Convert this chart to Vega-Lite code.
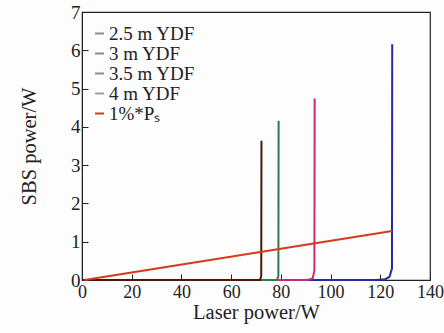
{
  "$schema": "https://vega.github.io/schema/vega-lite/v6.json",
  "width": 348,
  "height": 268,
  "autosize": {"type": "none"},
  "padding": {"left": 82, "top": 12, "right": 14, "bottom": 53},
  "background": "#fdfdfd",
  "config": {
    "font": "Liberation Serif",
    "view": {"stroke": "#222", "strokeWidth": 1.2}
  },
  "datasets": {
    "curves": [
      {"series": "4 m YDF", "x": 0.5, "y": 0},
      {"series": "4 m YDF", "x": 118, "y": 0},
      {"series": "4 m YDF", "x": 122, "y": 0.02},
      {"series": "4 m YDF", "x": 123.7, "y": 0.08},
      {"series": "4 m YDF", "x": 124.7, "y": 0.3},
      {"series": "4 m YDF", "x": 124.8, "y": 6.16},
      {"series": "3.5 m YDF", "x": 0.5, "y": 0},
      {"series": "3.5 m YDF", "x": 90.7, "y": 0},
      {"series": "3.5 m YDF", "x": 92.8, "y": 0.04},
      {"series": "3.5 m YDF", "x": 93.5, "y": 0.25},
      {"series": "3.5 m YDF", "x": 93.6, "y": 4.74},
      {"series": "3 m YDF", "x": 0.5, "y": 0},
      {"series": "3 m YDF", "x": 78.4, "y": 0},
      {"series": "3 m YDF", "x": 79, "y": 0.1},
      {"series": "3 m YDF", "x": 79.1, "y": 4.16},
      {"series": "2.5 m YDF", "x": 0.5, "y": 0},
      {"series": "2.5 m YDF", "x": 71.6, "y": 0},
      {"series": "2.5 m YDF", "x": 72.1, "y": 0.1},
      {"series": "2.5 m YDF", "x": 72.2, "y": 3.64},
      {"series": "1%*Pₛ", "x": 1, "y": 0},
      {"series": "1%*Pₛ", "x": 124.8, "y": 1.28}
    ],
    "legendrows": [
      {"series": "2.5 m YDF", "x": 0, "y": 0},
      {"series": "3 m YDF", "x": 0, "y": 0},
      {"series": "3.5 m YDF", "x": 0, "y": 0},
      {"series": "4 m YDF", "x": 0, "y": 0},
      {"series": "1%*Pₛ", "x": 0, "y": 0}
    ]
  },
  "encoding": {
    "x": {
      "field": "x", "type": "quantitative",
      "scale": {"domain": [0, 140], "nice": false},
      "axis": {
        "title": "Laser power/W", "values": [0, 20, 40, 60, 80, 100, 120, 140],
        "grid": false, "tickSize": -6, "labelPadding": 9, "labelFontSize": 18,
        "labelColor": "#222", "titleFontSize": 20.5, "titleFontWeight": "normal",
        "titleColor": "#222", "titlePadding": 1, "domainColor": "#222",
        "tickColor": "#222", "labelFlush": false
      }
    },
    "y": {
      "field": "y", "type": "quantitative",
      "scale": {"domain": [0, 7], "nice": false},
      "axis": {
        "title": "SBS power/W", "values": [0, 1, 2, 3, 4, 5, 6, 7],
        "grid": false, "tickSize": -6, "labelPadding": 8, "labelFontSize": 19,
        "labelColor": "#222", "titleFontSize": 20.5, "titleFontWeight": "normal",
        "titleColor": "#222", "titlePadding": 31, "domainColor": "#222",
        "tickColor": "#222", "labelFlush": false
      }
    }
  },
  "layer": [
    {
      "data": {"name": "curves"},
      "mark": {"type": "line", "strokeWidth": 2, "interpolate": "linear"},
      "encoding": {
        "color": {
          "field": "series", "type": "nominal",
          "scale": {
            "domain": ["2.5 m YDF", "3 m YDF", "3.5 m YDF", "4 m YDF", "1%*Pₛ"],
            "range": ["#4a1808", "#2f7a4a", "#c42a7e", "#2a2a98", "#d63a1c"]
          },
          "legend": null
        }
      }
    },
    {
      "data": {"name": "legendrows"},
      "mark": {"type": "line", "strokeWidth": 2},
      "encoding": {
        "color": {
          "field": "series", "type": "nominal",
          "scale": {
            "domain": ["2.5 m YDF", "3 m YDF", "3.5 m YDF", "4 m YDF", "1%*Pₛ"],
            "range": ["#8a8a8a", "#8a8a8a", "#8a8a8a", "#a0a0a0", "#d63a1c"]
          },
          "legend": {
            "title": null, "orient": "none", "legendX": 8, "legendY": 12,
            "symbolType": "stroke", "symbolSize": 80, "symbolStrokeWidth": 2,
            "labelFontSize": 19, "labelColor": "#222", "rowPadding": 0,
            "labelOffset": 0
          }
        }
      }
    }
  ],
  "resolve": {"scale": {"color": "independent"}, "legend": {"color": "independent"}}
}
